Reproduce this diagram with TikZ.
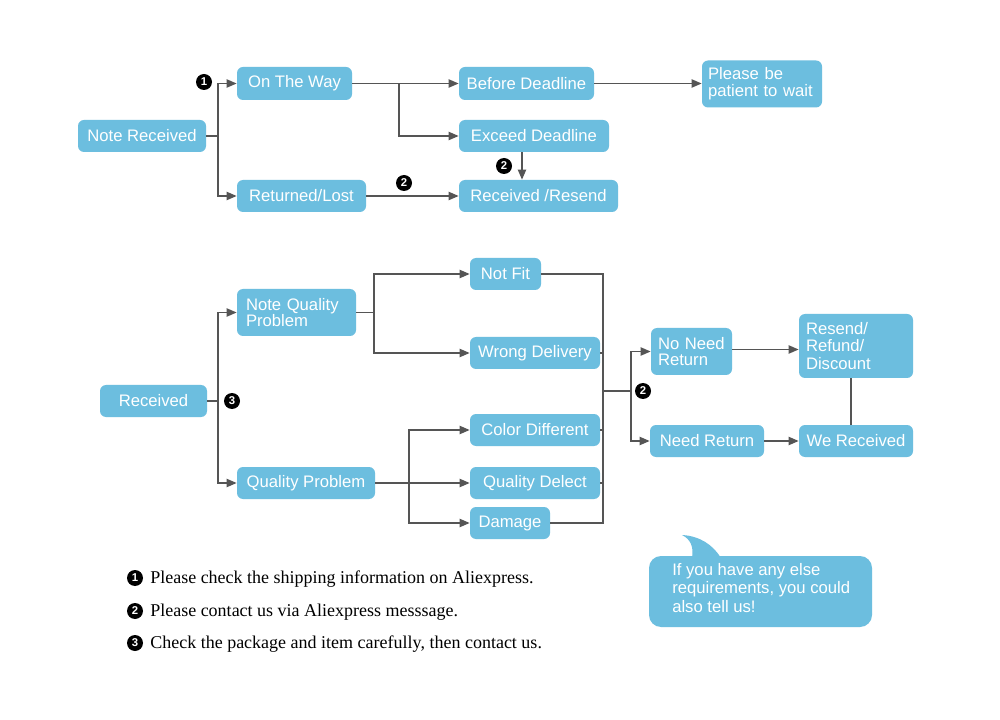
\documentclass[tikz,border=0pt]{standalone}
\usepackage{fontspec}
\setmainfont{Liberation Sans}
\newfontfamily\serifleg{Liberation Serif}
\usetikzlibrary{arrows.meta}
\definecolor{boxblue}{RGB}{108,190,223}
\definecolor{linegray}{RGB}{85,85,85}
\tikzset{
  bw/.style={minimum width=#1*0.75pt},
  bh/.style={minimum height=#1*0.75pt},
  tw/.style={text width=#1*0.75pt, align=left},
  box/.style={rectangle, rounded corners=4.5pt, fill=boxblue, text=white, inner sep=0pt,
    font=\fontsize{12.5}{14}\selectfont},
  conn/.style={draw=linegray, line width=1.4pt},
  arr/.style={conn, -{Triangle[length=7.5pt,width=6pt]}},
  badge/.style={circle, fill=black, text=white, inner sep=0pt, minimum size=12pt,
    font=\fontsize{8.5}{9}\selectfont\bfseries},
  legend/.style={anchor=west, inner sep=0pt, font=\serifleg\fontsize{13.5}{15}\selectfont},
}
\begin{document}
\begin{tikzpicture}[x=0.75pt, y=-0.75pt]
\useasboundingbox[fill=white] (0,0) rectangle (1000,720);

% ---- top part ----
\node[box, bw=128, bh=32] (nr)  at (142,136)   {Note Received};
\node[box, bw=115, bh=33] (otw) at (294.5,83.5) {On The Way};
\node[box, bw=129, bh=32] (rl)  at (301.5,196) {Returned/Lost};
\node[box, bw=135, bh=33] (bd)  at (526.5,83.5) {Before Deadline};
\node[box, bw=150, bh=32] (ed)  at (534,136)   {Exceed Deadline};
\node[box, bw=159, bh=32] (rr)  at (538.5,196) {Received /Resend};
\node[box, bw=120, bh=47, tw=108] (pw) at (762,84) {Please be\\[-1.5pt]patient to wait};

\coordinate (j1) at (218,136);
\coordinate (j2) at (399,83.5);
\draw[conn] (nr) -- (j1);
\draw[arr] (j1) |- (otw);
\draw[arr] (j1) |- (rl);
\draw[arr] (otw) -- (bd);
\draw[arr] (j2) |- (ed);
\draw[arr] ([xshift=-9pt]ed.south) -- ([xshift=-12.375pt]rr.north);
\draw[arr] (rl) -- (rr);
\draw[arr] (bd.east) -- (bd.east -| pw.west);

\node[badge] (b1) at (204,82) {1};
\node[badge] (b2a) at (404,183) {2};
\node[badge] (b2b) at (504,166) {2};

% ---- bottom part ----
\node[box, bw=107, bh=32] (rcv) at (153.5,401) {Received};
\node[box, bw=119, bh=47, tw=101] (nqp) at (296.5,312.5) {Note Quality\\[-2pt]Problem};
\node[box, bw=138, bh=32] (qp)  at (306,483)   {Quality Problem};
\node[box, bw=71,  bh=32] (nf)  at (505.5,274) {Not Fit};
\node[box, bw=130, bh=32] (wd)  at (535,353)   {Wrong Delivery};
\node[box, bw=130, bh=32] (cd)  at (535,430)   {Color Different};
\node[box, bw=130, bh=32] (qd)  at (535,483)   {Quality Delect};
\node[box, bw=80,  bh=32] (dm)  at (510,523)   {Damage};
\node[box, bw=81,  bh=47, tw=67] (nnr) at (691.5,351.5) {No Need\\[-2pt]Return};
\node[box, bw=114, bh=64, tw=100] (rrd) at (856,346) {Resend/\\[-1pt]Refund/\\[-1pt]Discount};
\node[box, bw=114, bh=32] (nrt) at (707,441)   {Need Return};
\node[box, bw=114, bh=32] (wr)  at (856,441)   {We Received};

\coordinate (j4) at (218,401);
\coordinate (j5) at (374,312.5);
\coordinate (j6) at (409,483);
\coordinate (j7) at (603,274);
\coordinate (j8) at (603,523);
\coordinate (j9) at (603,391);
\coordinate (j10) at (631,391);

\draw[conn] (rcv) -- (j4);
\draw[arr] (j4) |- (nqp);
\draw[arr] (j4) |- (qp);
\draw[conn] (nqp) -- (j5);
\draw[arr] (j5) |- (nf);
\draw[arr] (j5) |- (wd);
\draw[arr] (qp) -- (qd);
\draw[arr] (j6) |- (cd);
\draw[arr] (j6) |- (dm);
\draw[conn] (nf) -- (j7) -- (j8) -- (dm);
\draw[conn] (wd.east) -- (wd.east -| j7);
\draw[conn] (cd.east) -- (cd.east -| j7);
\draw[conn] (qd.east) -- (qd.east -| j7);
\draw[conn] (j9) -- (j10);
\draw[arr] (j10) |- (nnr);
\draw[arr] (j10) |- (nrt);
\draw[arr] ([yshift=1.5pt]nnr.east) -- ([yshift=1.5pt]nnr.east -| rrd.west);
\draw[arr] (nrt) -- (wr);
\draw[conn] ([xshift=-3.75pt]rrd.south) -- ([xshift=-3.75pt]wr.north);

\node[badge] (b3) at (232,401) {3};
\node[badge] (b2c) at (643,391) {2};

% ---- legend ----
\node[badge] (l1) at (135,578) {1};
\node[badge] (l2) at (135,611) {2};
\node[badge] (l3) at (135,643) {3};
\node[legend] (t1) at (150,579) {Please check the shipping information on Aliexpress.};
\node[legend] (t2) at (150,612) {Please contact us via Aliexpress messsage.};
\node[legend] (t3) at (150,644) {Check the package and item carefully, then contact us.};

% ---- speech bubble ----
\fill[boxblue, rounded corners=9pt] (649,556) rectangle (872,627);
\fill[boxblue] (692,558) .. controls (694,546) and (690,539) .. (682,535)
  .. controls (700,536) and (713,545) .. (721,558) -- cycle;
\node[anchor=north west, inner sep=0pt, text=white, align=left,
  font=\fontsize{12.5}{13.9}\selectfont] (bub) at (672,563)
  {If you have any else\\requirements, you could\\also tell us!};
\end{tikzpicture}
\end{document}
